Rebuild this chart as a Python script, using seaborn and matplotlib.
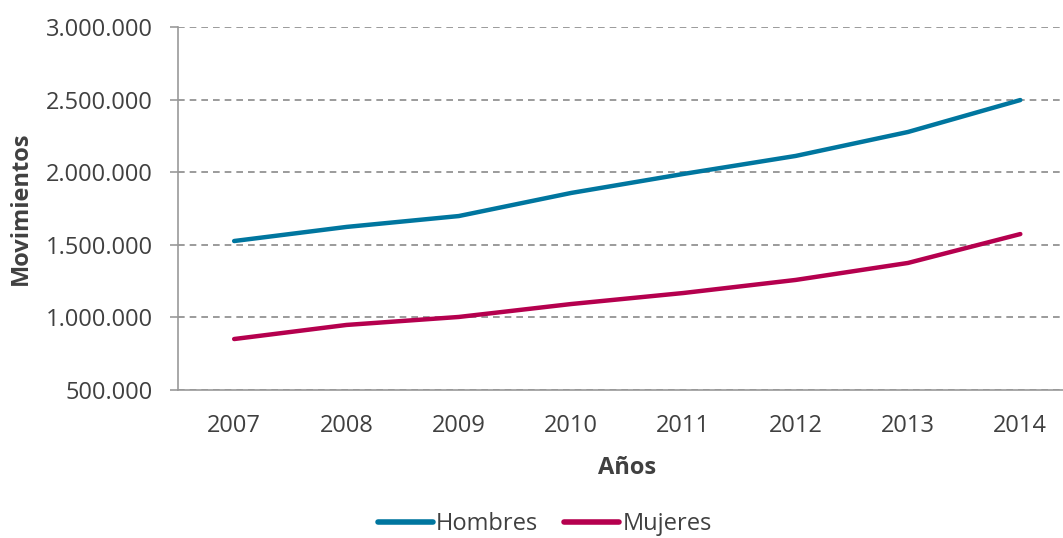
import matplotlib
matplotlib.use("Agg")
import matplotlib.pyplot as plt
import matplotlib.ticker as mticker
from matplotlib.lines import Line2D
import seaborn as sns
import pandas as pd

years = ["2007", "2008", "2009", "2010", "2011", "2012", "2013", "2014"]
hombres = [1526000, 1623000, 1698000, 1857000, 1988000, 2112000, 2277000, 2497000]
mujeres = [851000, 948000, 1003000, 1092000, 1168000, 1258000, 1375000, 1574000]
series_names = ["Hombres", "Mujeres"]
colors = ["#00769F", "#B5004E"]

sns.set_theme(style="white")
plt.rcParams['font.family'] = ['Open Sans', 'DejaVu Sans']

rows = []
for i, y in enumerate(years):
    rows.append({"x": i, "Año": y, "Serie": "Hombres", "v": hombres[i]})
    rows.append({"x": i, "Año": y, "Serie": "Mujeres", "v": mujeres[i]})
df = pd.DataFrame(rows)

fig = plt.figure(figsize=(10.63, 5.38), dpi=100)
ax = fig.add_axes([178/1063, 1 - 390/538, 1 - 178/1063, (390 - 27)/538])

sns.lineplot(data=df, x="x", y="v", hue="Serie", palette=dict(zip(series_names, colors)),
             linewidth=3.2, ax=ax, legend=False, solid_capstyle="round")

ax.yaxis.set_major_locator(mticker.MultipleLocator(500000))
ax.yaxis.set_major_formatter(mticker.FuncFormatter(lambda v, p: f"{int(v):,}".replace(",", ".")))
ax.grid(axis="y", color="#8a8a8a", linestyle=(0, (4, 3)), linewidth=1.2)
ax.set_axisbelow(True)

ax.set_xticks(range(len(years)))
ax.set_xticklabels(years)
ax.set_xticks([i - 0.5 for i in range(len(years) + 1)], minor=True)
ax.set_ylim(500000, 3000000)
ax.set_xlim(-0.5, 7.38)
ax.tick_params(axis="x", which="major", length=0, pad=17, labelsize=17, labelcolor="#404040")
ax.tick_params(axis="x", which="minor", length=6, width=1.2, color="#999999", direction="out")
ax.tick_params(axis="y", length=6, width=1.2, color="#999999", direction="out", pad=12,
               labelsize=17, labelcolor="#404040", left=True)

for s in ["top", "right"]:
    ax.spines[s].set_visible(False)
for s in ["left", "bottom"]:
    ax.spines[s].set_color("#999999")
    ax.spines[s].set_linewidth(1.2)

ax.set_xlabel("Años", fontsize=17, fontweight="bold", color="#404040")
ax.set_ylabel("Movimientos", fontsize=17, fontweight="bold", color="#404040")
ax.xaxis.set_label_coords((627 - 178) / 885, -(456 - 390) / 363)
ax.yaxis.set_label_coords((33 - 178) / 885, 0.5)

handles = [Line2D([0], [0], color=c, linewidth=4, solid_capstyle="round") for c in colors]
fig.legend(handles, series_names, loc="center", bbox_to_anchor=(545/1063, 1 - 524/538),
           ncol=2, frameon=False, fontsize=17, handlelength=2.3, handletextpad=0.15,
           columnspacing=1.1, labelcolor="#404040")

fig.savefig("out.png", dpi=100)
